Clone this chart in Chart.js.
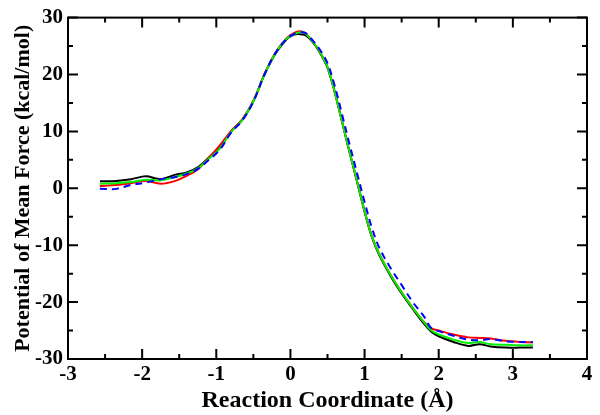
<!DOCTYPE html>
<html>
<head>
<meta charset="utf-8">
<script src="https://cdn.jsdelivr.net/npm/chart.js@4/dist/chart.umd.min.js"></script>
<style>
  html, body { margin: 0; padding: 0; background: #fff; }
  #wrap { width: 600px; height: 415px; }
</style>
</head>
<body>
<div id="wrap"><canvas id="pmfChart"></canvas></div>
<script>
// reaction coordinate sample positions (Å)
var coord = [-2.57, -2.35, -2.15, -1.95, -1.75, -1.55, -1.4, -1.25, -1.1, -0.95, -0.8, -0.65, -0.5, -0.35, -0.2, -0.05, 0.05, 0.12, 0.2, 0.3, 0.4, 0.5, 0.6, 0.7, 0.8, 0.9, 1.0, 1.1, 1.2, 1.35, 1.5, 1.65, 1.8, 1.9, 2.0, 2.2, 2.4, 2.55, 2.7, 2.9, 3.1, 3.27];

// PMF values (kcal/mol) for the four runs
var pmfBlack = [1.25, 1.3, 1.6, 2.1, 1.6, 2.4, 2.8, 3.7, 5.4, 7.2, 10.0, 12.0, 15.3, 20.0, 23.7, 26.2, 27.0, 27.1, 26.9, 25.7, 23.8, 21.2, 16.8, 11.5, 6.2, 1.1, -4.1, -8.6, -11.8, -15.4, -18.5, -21.2, -23.8, -25.2, -26.0, -27.0, -27.7, -27.4, -27.8, -28.0, -28.0, -28.0];
var pmfRed = [0.4, 0.6, 0.9, 1.3, 0.8, 1.3, 2.2, 3.3, 5.4, 7.6, 10.1, 12.1, 15.4, 20.1, 23.9, 26.4, 27.3, 27.6, 27.3, 25.8, 23.9, 21.3, 16.8, 11.5, 6.3, 1.2, -4.0, -8.5, -11.6, -15.2, -18.3, -21.0, -23.5, -24.6, -25.0, -25.7, -26.2, -26.3, -26.4, -26.8, -27.0, -27.1];
var pmfGreen = [0.8, 0.9, 1.1, 1.5, 1.4, 2.0, 2.6, 3.5, 5.2, 7.0, 9.9, 12.0, 15.3, 20.0, 23.8, 26.3, 27.1, 27.4, 27.2, 25.8, 23.9, 21.3, 16.8, 11.5, 6.3, 1.2, -4.0, -8.5, -11.6, -15.2, -18.3, -21.0, -23.5, -25.0, -25.7, -26.6, -27.2, -27.0, -27.4, -27.5, -27.6, -27.6];
var pmfBlue = [-0.1, -0.1, 0.6, 1.0, 1.6, 2.0, 2.5, 3.4, 5.0, 6.8, 9.8, 11.9, 15.2, 20.0, 23.8, 26.3, 27.1, 27.4, 27.3, 26.0, 24.3, 22.0, 17.9, 12.8, 7.6, 2.6, -2.4, -7.0, -10.5, -14.0, -17.0, -20.0, -22.5, -24.6, -25.1, -25.9, -26.6, -26.7, -26.5, -26.9, -27.0, -27.0];

var xMin = -3, xMax = 4, yMin = -30, yMax = 30;

function toPoints(ys) {
    return coord.map(function (x, i) {
        return { x: x, y: ys[i] };
    });
}

var serif = "'Liberation Serif', 'DejaVu Serif', serif";

// box around the plot with inward ticks on all four sides
var frameTicks = {
    id: "frameTicks",
    afterDraw: function (chart) {
        var c = chart.ctx;
        var a = chart.chartArea;
        var sx = chart.scales.x, sy = chart.scales.y;
        c.save();
        c.strokeStyle = "#000";
        c.lineWidth = 2;
        c.strokeRect(a.left, a.top, a.right - a.left, a.bottom - a.top);
        c.beginPath();
        for (var v = xMin; v <= xMax + 1e-9; v += 0.5) {
            var px = sx.getPixelForValue(v);
            var len = Math.abs(v - Math.round(v)) < 1e-6 ? 10 : 5;
            c.moveTo(px, a.bottom); c.lineTo(px, a.bottom - len);
            c.moveTo(px, a.top); c.lineTo(px, a.top + len);
        }
        for (var w = yMin; w <= yMax + 1e-9; w += 5) {
            var py = sy.getPixelForValue(w);
            var len2 = w % 10 === 0 ? 10 : 5;
            c.moveTo(a.left, py); c.lineTo(a.left + len2, py);
            c.moveTo(a.right, py); c.lineTo(a.right - len2, py);
        }
        c.stroke();
        c.restore();
    }
};

function series(data, color, dash, order) {
    return {
        data: toPoints(data),
        borderColor: color,
        backgroundColor: color,
        borderWidth: 2,
        borderDash: dash,
        pointRadius: 0,
        tension: 0.35,
        fill: false,
        order: order
    };
}

new Chart(document.getElementById("pmfChart"), {
    type: "line",
    data: {
        datasets: [
            series(pmfBlack, "#000000", [], 3),
            series(pmfRed, "#ff0000", [], 2),
            series(pmfGreen, "#00ee00", [], 1),
            series(pmfBlue, "#0000ff", [7, 5], 0)
        ]
    },
    options: {
        responsive: true,
        maintainAspectRatio: false,
        animation: false,
        layout: { padding: { top: 13, right: 13, bottom: 0, left: 10 } },
        plugins: { legend: { display: false }, tooltip: { enabled: false } },
        scales: {
            x: {
                type: "linear",
                min: xMin,
                max: xMax,
                grid: { display: false, drawTicks: false },
                border: { display: false },
                ticks: {
                    stepSize: 1,
                    padding: 3,
                    color: "#000",
                    font: { family: serif, size: 21, weight: "bold" }
                },
                title: {
                    display: true,
                    text: "Reaction Coordinate (Å)",
                    color: "#000",
                    padding: { top: 0, bottom: 0 },
                    font: { family: serif, size: 24, weight: "bold" }
                },
                afterFit: function (scale) { scale.height = 56; }
            },
            y: {
                min: yMin,
                max: yMax,
                grid: { display: false, drawTicks: false },
                border: { display: false },
                ticks: {
                    stepSize: 10,
                    padding: 5,
                    color: "#000",
                    font: { family: serif, size: 21, weight: "bold" }
                },
                title: {
                    display: true,
                    text: "Potential of Mean Force (kcal/mol)",
                    color: "#000",
                    padding: { top: 0, bottom: 0 },
                    font: { family: serif, size: 22, weight: "bold" }
                },
                afterFit: function (scale) { scale.width = 58; }
            }
        }
    },
    plugins: [frameTicks]
});
</script>
</body>
</html>
